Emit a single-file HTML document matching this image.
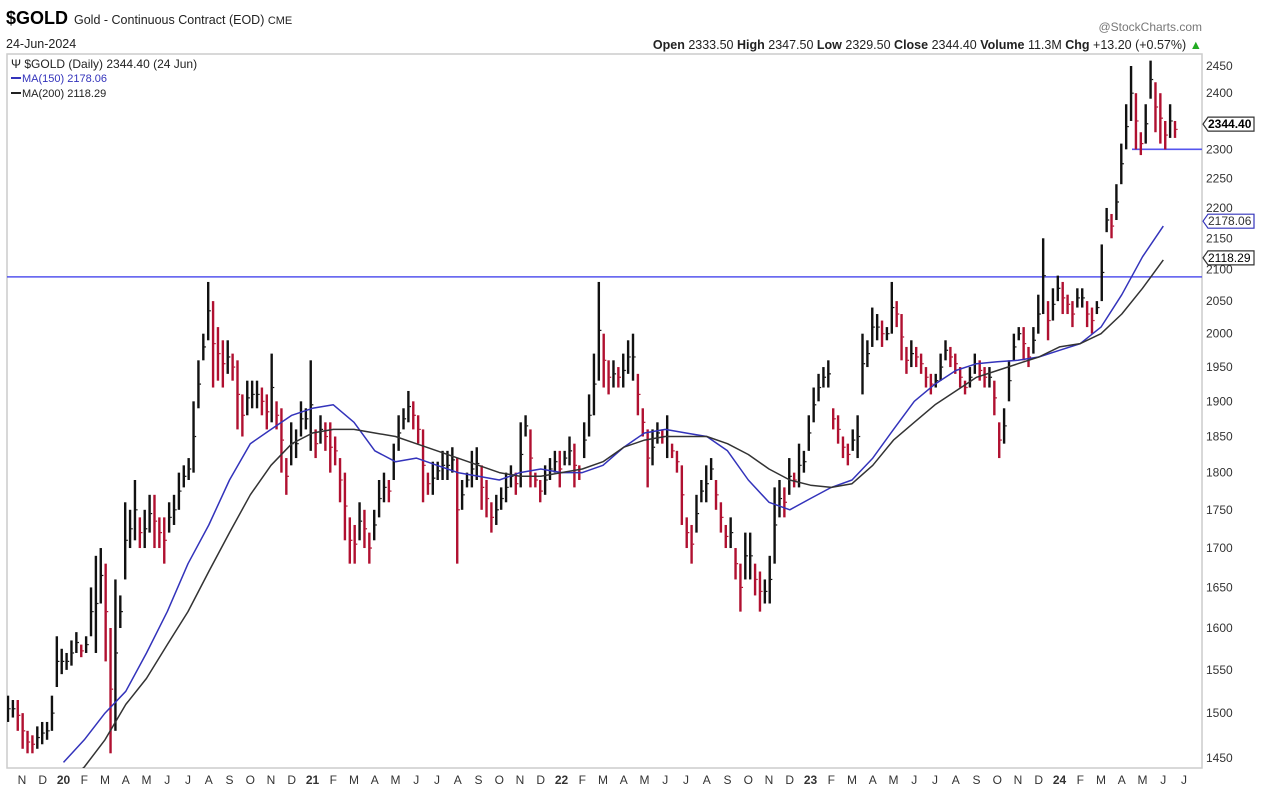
<!DOCTYPE html>
<html><head><meta charset="utf-8"><style>
body{margin:0;width:1272px;height:796px;background:#fff;overflow:hidden;font-family:"Liberation Sans",sans-serif;}
svg{display:block}
</style></head><body>
<svg id="chart" width="1272" height="796" xmlns="http://www.w3.org/2000/svg">
<text x="6" y="24" font-size="18" font-weight="bold" fill="#000">$GOLD</text>
<text x="74" y="24" font-size="12.5" fill="#222">Gold - Continuous Contract (EOD) <tspan font-size="11">CME</tspan></text>
<text x="6" y="48" font-size="12.5" fill="#222">24-Jun-2024</text>
<text x="1202" y="31" font-size="12" fill="#777" text-anchor="end">@StockCharts.com</text>
<text x="1202" y="49" font-size="12.5" fill="#222" text-anchor="end"><tspan font-weight="bold">Open</tspan> 2333.50  <tspan font-weight="bold">High</tspan> 2347.50  <tspan font-weight="bold">Low</tspan> 2329.50  <tspan font-weight="bold">Close</tspan> 2344.40  <tspan font-weight="bold">Volume</tspan> 11.3M  <tspan font-weight="bold">Chg</tspan> +13.20 (+0.57%) <tspan fill="#2a2">▲</tspan></text>
<rect x="7" y="54" width="1195" height="714" fill="none" stroke="#ccc" stroke-width="1.5"/>
<g id="marks"></g>
<text x="11" y="68" font-size="12" fill="#222">Ψ $GOLD (Daily) 2344.40 (24 Jun)</text>
<line x1="11" y1="78" x2="21" y2="78" stroke="#3333bb" stroke-width="2"/>
<text x="22" y="82" font-size="11" fill="#3333bb">MA(150) 2178.06</text>
<line x1="11" y1="93" x2="21" y2="93" stroke="#222" stroke-width="2"/>
<text x="22" y="97" font-size="11" fill="#222">MA(200) 2118.29</text>
</svg>
<script>
const highs=[1520,1515,1515,1500,1480,1475,1485,1490,1490,1520,1590,1575,1570,1585,1595,1580,1590,1650,1690,1700,1680,1600,1660,1640,1760,1750,1790,1740,1750,1770,1770,1740,1740,1760,1770,1800,1810,1820,1900,1960,2000,2080,2050,2010,1990,1990,1970,1960,1910,1930,1930,1930,1920,1910,1970,1900,1890,1820,1870,1860,1900,1890,1960,1860,1880,1870,1870,1850,1820,1800,1740,1730,1760,1750,1720,1750,1790,1800,1790,1840,1880,1890,1915,1900,1880,1860,1800,1815,1815,1830,1830,1835,1820,1790,1800,1830,1835,1810,1790,1760,1770,1780,1800,1810,1800,1870,1880,1860,1800,1790,1810,1820,1830,1830,1830,1850,1840,1810,1870,1910,1970,2080,2000,1960,1960,1950,1970,1990,2000,1940,1890,1860,1860,1870,1860,1880,1840,1830,1810,1740,1730,1770,1790,1810,1820,1790,1760,1730,1740,1700,1680,1720,1720,1680,1670,1660,1690,1780,1790,1780,1820,1800,1840,1830,1880,1920,1940,1950,1960,1890,1880,1850,1840,1860,1880,2000,1990,2040,2030,2020,2010,2080,2050,2030,1980,1990,1980,1970,1950,1940,1940,1970,1990,1980,1970,1950,1930,1950,1970,1960,1950,1950,1930,1870,1890,1960,2000,2010,2010,1980,2010,2060,2150,2050,2070,2090,2080,2060,2050,2070,2070,2050,2040,2050,2140,2200,2190,2240,2310,2380,2450,2400,2330,2380,2460,2420,2400,2350,2380,2350];
const lows=[1490,1495,1480,1460,1455,1455,1460,1465,1470,1480,1530,1545,1550,1555,1570,1565,1570,1590,1570,1630,1560,1455,1480,1600,1660,1700,1710,1700,1700,1720,1700,1700,1680,1720,1730,1750,1780,1790,1800,1890,1960,1990,1920,1930,1920,1940,1930,1860,1850,1880,1890,1890,1880,1860,1870,1860,1800,1770,1810,1820,1850,1860,1830,1820,1840,1830,1800,1810,1760,1710,1680,1680,1710,1700,1680,1710,1740,1760,1760,1790,1830,1860,1870,1860,1840,1760,1770,1770,1790,1790,1790,1800,1680,1750,1780,1780,1790,1750,1740,1720,1730,1750,1760,1780,1770,1780,1850,1780,1780,1760,1770,1790,1800,1780,1810,1810,1780,1790,1820,1850,1880,1930,1920,1910,1920,1920,1920,1940,1930,1880,1850,1780,1810,1840,1840,1820,1820,1800,1730,1700,1680,1720,1760,1760,1790,1750,1720,1700,1700,1660,1620,1660,1660,1640,1620,1630,1630,1680,1740,1740,1770,1780,1780,1800,1830,1870,1900,1920,1920,1860,1840,1820,1810,1830,1820,1910,1950,1980,1990,1980,1990,2000,2010,1960,1940,1950,1950,1940,1920,1910,1920,1930,1960,1950,1940,1920,1910,1920,1940,1930,1920,1920,1880,1820,1840,1900,1960,1990,1960,1950,1970,2000,2030,1990,2020,2050,2030,2030,2010,2040,2040,2010,2000,2030,2050,2160,2150,2180,2240,2300,2350,2300,2290,2310,2390,2330,2310,2300,2320,2320];
const maMonths=["Jan20","Feb20","Mar20","Apr20","May20","Jun20","Jul20","Aug20","Sep20","Oct20","Nov20","Dec20","Jan21","Feb21","Mar21","Apr21","May21","Jun21","Jul21","Aug21","Sep21","Oct21","Nov21","Dec21","Jan22","Feb22","Mar22","Apr22","May22","Jun22","Jul22","Aug22","Sep22","Oct22","Nov22","Dec22","Jan23","Feb23","Mar23","Apr23","May23","Jun23","Jul23","Aug23","Sep23","Oct23","Nov23","Dec23","Jan24","Feb24","Mar24","Apr24","May24","Jun24"];
const ma150=[1445,1470,1500,1525,1570,1620,1680,1730,1790,1840,1860,1880,1890,1895,1870,1830,1815,1820,1810,1800,1795,1790,1800,1805,1800,1800,1810,1835,1855,1860,1855,1850,1830,1790,1760,1750,1765,1780,1790,1820,1860,1900,1925,1945,1955,1958,1960,1965,1975,1985,2010,2060,2120,2170];
const ma200=[1420,1440,1470,1510,1540,1580,1620,1670,1720,1770,1810,1840,1855,1860,1860,1855,1850,1840,1830,1820,1810,1800,1795,1795,1800,1805,1815,1835,1845,1850,1850,1850,1840,1825,1805,1790,1783,1780,1785,1810,1845,1870,1895,1915,1935,1945,1955,1965,1980,1985,2000,2030,2070,2115];
const yTicks=[2450,2400,2300,2250,2200,2150,2100,2050,2000,1950,1900,1850,1800,1750,1700,1650,1600,1550,1500,1450];
const monthLabels=["N","D","20","F","M","A","M","J","J","A","S","O","N","D","21","F","M","A","M","J","J","A","S","O","N","D","22","F","M","A","M","J","J","A","S","O","N","D","23","F","M","A","M","J","J","A","S","O","N","D","24","F","M","A","M","J","J"];
const resistance=2088, support=2300, lastClose=2344.40, lastMa150=2178.06, lastMa200=2118.29;

const NS="http://www.w3.org/2000/svg";
const svg=document.getElementById('chart'), g=document.getElementById('marks');
const L0=Math.log(2450), yTop=66, k=1319;
function y(p){return yTop+(L0-Math.log(p))*k;}
const n=highs.length, step=(1175-8)/(n-1);
function xw(i){return 8+i*step;}
function xm(m){return 22+m*20.75;}
function mk(tag,attrs){const e=document.createElementNS(NS,tag);for(const a in attrs)e.setAttribute(a,attrs[a]);return e;}
const clip=mk('clipPath',{id:'pc'});clip.appendChild(mk('rect',{x:7,y:54,width:1195,height:714}));svg.appendChild(clip);
g.setAttribute('clip-path','url(#pc)');

let ln=mk('line',{x1:0,x2:1202,y1:y(resistance),y2:y(resistance),stroke:'#5555ee','stroke-width':1.6});


g.appendChild(ln);
ln=mk('line',{x1:1132,x2:1202,y1:y(support),y2:y(support),stroke:'#5555ee','stroke-width':1.6});


g.appendChild(ln);

for(let i=0;i<n;i++){
  const mid=(highs[i]+lows[i])/2, prev=i?(highs[i-1]+lows[i-1])/2:mid;
  const col=mid>=prev?'#111':'#b01030';
  const r=mk('rect',{x:xw(i)-1.2,y:y(highs[i]),width:2.4,height:Math.max(1,y(lows[i])-y(highs[i])),fill:col});
  
  
  g.appendChild(r);
  const t=mk('rect',{x:xw(i)+1.2,y:y(mid)-0.6,width:1.4,height:1.2,fill:col});
  
  
  g.appendChild(t);
}
function maPath(arr,col,name){
  let d='';arr.forEach((v,j)=>{d+=(j?'L':'M')+xm(j+2).toFixed(1)+','+y(v).toFixed(1);});
  const p=mk('path',{d:d,fill:'none',stroke:col,'stroke-width':1.5,'stroke-linejoin':'round'});
  
  
  g.appendChild(p);
}
maPath(ma150,'#3333bb','ma150-line');
maPath(ma200,'#333','ma200-line');

yTicks.forEach(v=>{
  const t=mk('text',{x:1206,y:y(v)+4,'font-size':12,fill:'#333'});t.textContent=v;
  
  
  svg.appendChild(t);
});
function tag(v,txt,col,bold,name){
  const yy=y(v);
  const p=mk('path',{d:`M1203,${yy} L1208,${yy-7} L1254,${yy-7} L1254,${yy+7} L1208,${yy+7} Z`,fill:'#fff',stroke:col,'stroke-width':1.2});
  
  
  svg.appendChild(p);
  const t=mk('text',{x:1208,y:yy+4,'font-size':12,fill:col==='#3333bb'?'#333':'#000','font-weight':bold?'bold':'normal'});t.textContent=txt;
  
  
  svg.appendChild(t);
}
tag(lastClose,'2344.40','#333',true,'last-close-tag');
tag(lastMa150,'2178.06','#3333bb',false,'ma150-tag');
tag(lastMa200,'2118.29','#333',false,'ma200-tag');
monthLabels.forEach((s,m)=>{
  const t=mk('text',{x:xm(m),y:784,'font-size':12,fill:'#333','text-anchor':'middle','font-weight':/\d/.test(s)?'bold':'normal'});t.textContent=s;
  
  
  svg.appendChild(t);
});
</script>
</body></html>
